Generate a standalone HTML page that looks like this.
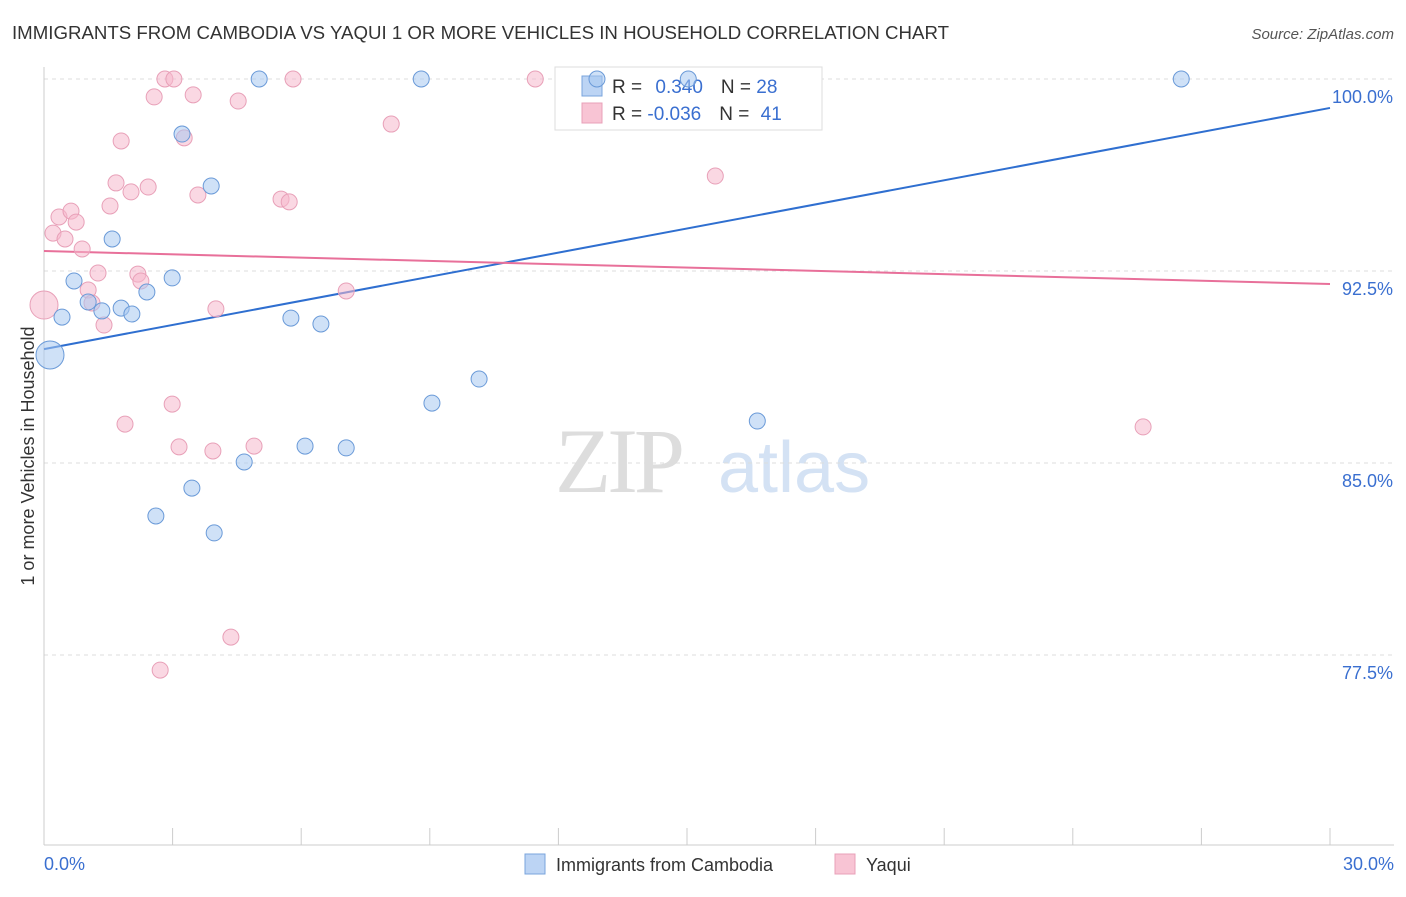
<!DOCTYPE html>
<html><head><meta charset="utf-8"><style>
body{margin:0;background:#fff;font-family:"Liberation Sans",sans-serif}
</style></head><body>
<svg width="1406" height="892" xmlns="http://www.w3.org/2000/svg">
<text x="12" y="39" font-size="18" fill="#333" textLength="937" lengthAdjust="spacingAndGlyphs">IMMIGRANTS FROM CAMBODIA VS YAQUI 1 OR MORE VEHICLES IN HOUSEHOLD CORRELATION CHART</text>
<text x="1394" y="39" font-size="15" fill="#555" text-anchor="end" font-style="italic">Source: ZipAtlas.com</text>
<g>
<text x="555" y="492" font-size="92" fill="#ddd" font-family="Liberation Serif,serif" letter-spacing="-4">ZIP</text>
<text x="718" y="492" font-size="72" fill="#d4e2f4">atlas</text></g>
<g id="grid"></g><g id="axes"></g>
<g>
<rect x="555" y="67" width="267" height="63" fill="#fff" stroke="#ddd"/>
<rect x="582" y="76" width="20" height="20" fill="#bcd4f4" stroke="#7aa4dc"/>
<rect x="582" y="103" width="20" height="20" fill="#f8c4d4" stroke="#e8a0b8"/>
<text x="612" y="93" font-size="19" fill="#333">R = <tspan fill="#3a6fd0" dx="8">0.340</tspan><tspan dx="18">N = </tspan><tspan fill="#3a6fd0">28</tspan></text>
<text x="612" y="120" font-size="19" fill="#333">R = <tspan fill="#3a6fd0">-0.036</tspan><tspan dx="18">N = </tspan><tspan fill="#3a6fd0" dx="6">41</tspan></text>
</g>
<g id="lines"></g><g id="pts"></g>
<text x="34" y="456" font-size="18" fill="#333" transform="rotate(-90 34 456)" text-anchor="middle">1 or more Vehicles in Household</text>
<text x="44" y="870" font-size="18" fill="#3a6fd0">0.0%</text>
<text x="1394" y="870" font-size="18" fill="#3a6fd0" text-anchor="end">30.0%</text>
<g>
<rect x="525" y="854" width="20" height="20" fill="#bcd4f4" stroke="#7aa4dc"/>
<text x="556" y="871" font-size="18" fill="#333">Immigrants from Cambodia</text>
<rect x="835" y="854" width="20" height="20" fill="#f8c4d4" stroke="#e8a0b8"/>
<text x="866" y="871" font-size="18" fill="#333">Yaqui</text></g>
</svg>
<script>
const yTicks=[100,92.5,85,77.5];
const yTickLabels=["100.0%","92.5%","85.0%","77.5%"];
const xTicks=[0,3,6,9,12,15,18,21,24,27,30];
const blueX=[0.14,0.42,0.70,1.03,1.35,1.59,1.80,2.05,2.40,2.61,2.99,3.22,3.45,3.90,3.97,4.67,5.02,5.76,6.09,6.46,7.05,8.80,9.05,10.15,12.90,15.03,16.64,26.53];
const blueY=[89.22,90.70,92.11,91.29,90.94,93.75,91.05,90.82,91.68,82.93,92.23,97.85,84.02,95.82,82.27,85.04,100,90.66,85.66,90.43,85.59,100,87.34,88.28,100,100,86.64,100];
const pinkX=[0,0.21,0.35,0.49,0.63,0.75,0.89,1.03,1.12,1.26,1.40,1.54,1.68,1.80,1.89,2.03,2.19,2.26,2.43,2.57,2.71,2.82,2.99,3.03,3.15,3.27,3.48,3.59,3.94,4.01,4.36,4.53,4.90,5.53,5.72,5.81,7.05,8.10,11.46,15.66,25.64];
const pinkY=[91.17,93.98,94.61,93.75,94.84,94.41,93.36,91.76,91.25,92.42,90.39,95.04,95.94,97.58,86.52,95.59,92.38,92.11,95.78,99.30,76.91,100,87.30,100,85.63,97.70,99.38,95.47,85.47,91.02,78.20,99.14,85.66,95.31,95.20,100,91.72,98.24,100,96.21,86.41];
const blueTrend=[89.45,98.87];
const pinkTrend=[93.28,91.99];
const NS="http://www.w3.org/2000/svg";
const X=v=>44+v/30*1286, Y=v=>79+(100-v)/7.5*192;
function mk(p,t,a){const e=document.createElementNS(NS,t);for(const k in a)e.setAttribute(k,a[k]);document.getElementById(p).appendChild(e);return e;}
yTicks.forEach((t,i)=>{
 let l=mk('grid','line',{x1:44,x2:1394,y1:Y(t),y2:Y(t),stroke:'#ddd','stroke-dasharray':'4,4'});
 
 
 let tx=mk('grid','text',{x:1393,y:Y(t)+24,'font-size':18,fill:'#3a6fd0','text-anchor':'end'});
 tx.textContent=yTickLabels[i];
 
 
});
let ax=mk('axes','line',{x1:44,x2:44,y1:67,y2:845,stroke:'#ccc'});


let bx=mk('axes','line',{x1:44,x2:1394,y1:845,y2:845,stroke:'#ccc'});


xTicks.forEach(t=>{let l=mk('axes','line',{x1:X(t),x2:X(t),y1:828,y2:845,stroke:'#ccc'});
 
 });
function dots(xs,ys,fill,stroke,name){xs.forEach((x,i)=>{const big=(i===0);
 let c=mk('pts','circle',{cx:X(x),cy:Y(ys[i]),r:big?14:8,fill:fill,'fill-opacity':0.55,stroke:stroke,'stroke-width':1});
 
 });}
dots(pinkX,pinkY,'#f6b8cc','#e8a0b8','yaqui-point');
dots(blueX,blueY,'#a8c8f0','#6a9ad8','cambodia-point');
let bl=mk('lines','line',{x1:X(0),x2:X(30),y1:Y(blueTrend[0]),y2:Y(blueTrend[1]),stroke:'#2f6fd0','stroke-width':2});


let pl=mk('lines','line',{x1:X(0),x2:X(30),y1:Y(pinkTrend[0]),y2:Y(pinkTrend[1]),stroke:'#e8709a','stroke-width':2});


</script>
</body></html>
